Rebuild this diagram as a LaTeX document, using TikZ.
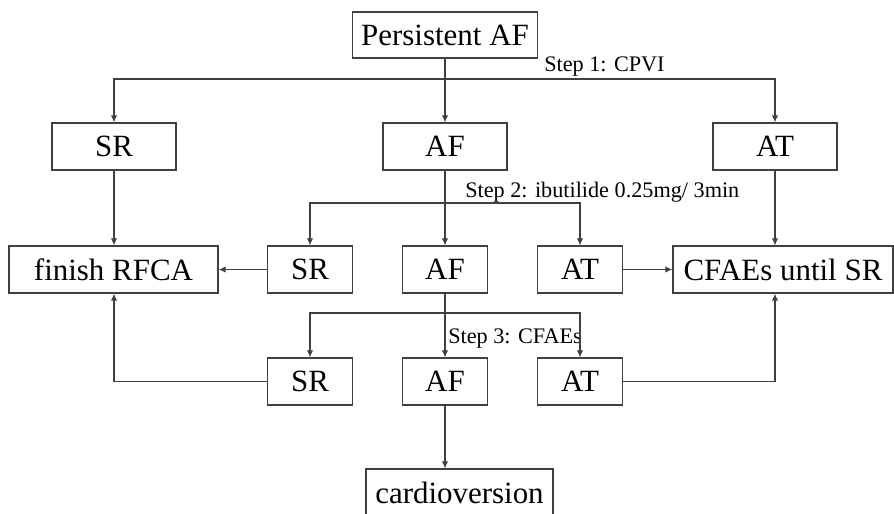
\documentclass[tikz,border=0pt]{standalone}
\usepackage{fontspec}
\setmainfont{Liberation Serif}
\usetikzlibrary{arrows.meta, calc}

\begin{document}
\begin{tikzpicture}[
  x=0.025cm, y=-0.025cm,
  box/.style={draw=black!75, line width=0.8pt, font=\fontsize{22}{26}\selectfont,
    minimum height=1.175cm, inner sep=0pt},
  stage/.style={box, minimum width=3.1cm},
  stagesm/.style={box, minimum width=2.125cm},
  steplabel/.style={font=\fontsize{15.8}{18}\selectfont, inner sep=0pt, anchor=base west},
  bus/.style={draw=black!75, line width=0.8pt},
  link/.style={bus, -{Latex[length=5pt, width=4.5pt]}}
]
  \useasboundingbox (0,0) rectangle (894,513);

  %% TOP
  \node[box, minimum width=4.625cm, minimum height=1.15cm] (pers) at (445,35) {Persistent AF};

  %% ROW 1 — after CPVI
  \node[stage] (sr1) at (114,146.5) {SR};
  \node[stage] (af1) at (445,146.5) {AF};
  \node[stage] (at1) at (775,146.5) {AT};

  %% ROW 2 — after ibutilide
  \node[box, minimum width=5.225cm] (finish) at (113.5,269.5) {finish RFCA};
  \node[stagesm] (sr2) at (310,269.5) {SR};
  \node[stagesm] (af2) at (445,269.5) {AF};
  \node[stagesm] (at2) at (580,269.5) {AT};
  \node[box, minimum width=5.5cm] (cfae) at (783,269.5) {CFAEs until SR};

  %% ROW 3 — after CFAEs
  \node[stagesm] (sr3) at (310,381.5) {SR};
  \node[stagesm] (af3) at (445,381.5) {AF};
  \node[stagesm] (at3) at (580,381.5) {AT};

  %% BOTTOM
  \node[box, minimum width=4.675cm] (cardio) at (459.5,492.5) {cardioversion};

  %% step labels
  \node[steplabel] (lab1) at (544,71) {Step 1: CPVI};
  \node[steplabel] (lab2) at (465,197) {Step 2: ibutilide 0.25mg/ 3min};
  \node[steplabel] (lab3) at (448,343) {Step 3: CFAEs};

  %%======== STEP 1 ========
  \coordinate (s1) at (445,79);
  \draw[link] (pers.south) -- (af1.north);
  \draw[link] (s1) -| (sr1.north);
  \draw[link] (s1) -| (at1.north);
  \draw[link] (sr1.south) -- (sr1.south |- finish.north);
  \draw[link] (at1.south) -- (at1.south |- cfae.north);

  %%======== STEP 2 ========
  \coordinate (s2) at (445,203);
  \draw[link] (af1.south) -- (af2.north);
  \draw[link] (s2) -| (sr2.north);
  \draw[link] (s2) -| (at2.north);
  \draw[link] (sr2.west) -- (finish.east);
  \draw[link] (at2.east) -- (cfae.west);

  %%======== STEP 3 ========
  \coordinate (s3) at (445,313);
  \draw[link] (af2.south) -- (af3.north);
  \draw[link] (s3) -| (sr3.north);
  \draw[link] (s3) -| (at3.north);
  \draw[link] (sr3.west) -| (sr1.south |- finish.south);
  \draw[link] (at3.east) -| (at1.south |- cfae.south);
  \draw[link] (af3.south) -- (af3.south |- cardio.north);

\end{tikzpicture}
\end{document}
